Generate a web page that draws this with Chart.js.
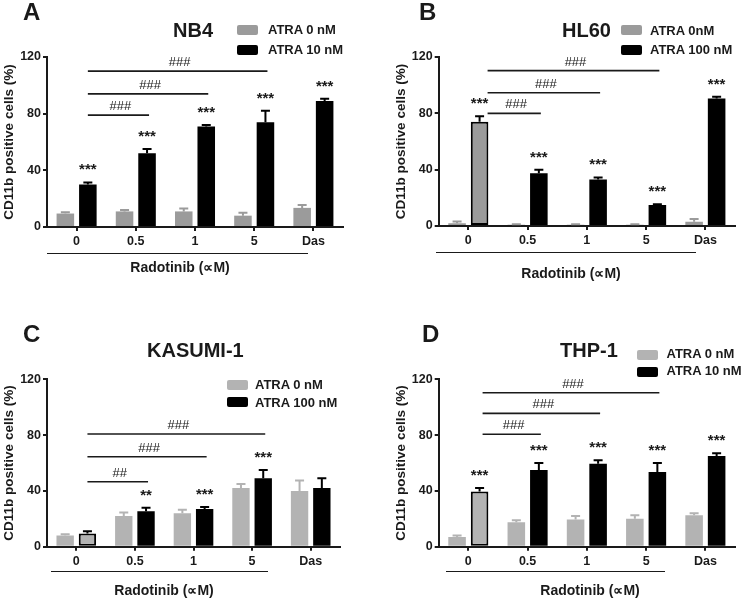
<!DOCTYPE html>
<html>
<head>
<meta charset="utf-8">
<script src="https://cdn.jsdelivr.net/npm/chart.js@4.4.0/dist/chart.umd.min.js"></script>
<style>
body { margin: 0; background: #fff; width: 745px; height: 598px; position: relative; overflow: hidden;
       font-family: "Liberation Sans", Arial, sans-serif; color: #1a1a1a; }
canvas { position: absolute; }
.t { position: absolute; font-weight: bold; line-height: 1; white-space: nowrap; }
.box { position: absolute; width: 21px; height: 10px; border-radius: 2px; }
.rule { position: absolute; height: 0; border-top: 1.6px solid #1a1a1a; }
</style>
</head>
<body>
<canvas id="cA" width="372" height="299" style="left:0;top:0"></canvas>
<canvas id="cB" width="373" height="299" style="left:372px;top:0"></canvas>
<canvas id="cC" width="372" height="299" style="left:0;top:299px"></canvas>
<canvas id="cD" width="373" height="299" style="left:372px;top:299px"></canvas>
<script>
// 数据
const categories = ['0', '0.5', '1', '5', 'Das'];
const yTicks = [0, 40, 80, 120];

const nb4Atra0 = [9.5, 11, 11, 8, 13.5];
const nb4Atra0Err = [1, 1, 2, 2, 2];
const nb4Atra10 = [30, 52, 71, 74, 89];
const nb4Atra10Err = [1.5, 3, 1, 8, 1.5];
const nb4Stars = ['***', '***', '***', '***', '***'];
const nb4Sig = [[0, 3, 110, '###'], [0, 2, 94, '###'], [0, 1, 79, '###']];

const hl60Atra0 = [2, 0.8, 0.8, 0.8, 3];
const hl60Atra0Err = [1.2, 0.4, 0.4, 0.4, 2];
const hl60Atra100 = [74, 37.5, 33, 15, 90.5];
const hl60Atra100Err = [4, 2.5, 1.5, 0.5, 1.2];
const hl60Stars = ['***', '***', '***', '***', '***'];
const hl60Sig = [[0, 3, 110.3, '###'], [0, 2, 94.6, '###'], [0, 1, 80, '###']];

const kasumiAtra0 = [8, 22, 24, 42, 40];
const kasumiAtra0Err = [1, 2.5, 2.5, 3, 7.5];
const kasumiAtra100 = [9.5, 25.5, 27, 49, 42];
const kasumiAtra100Err = [1.5, 2.5, 1.5, 6, 7];
const kasumiStars = ['', '**', '***', '***', ''];
const kasumiSig = [[0, 3, 80.8, '###'], [0, 2, 64.5, '###'], [0, 1, 46.6, '##']];

const thpAtra0 = [7, 17.5, 19.5, 20, 22.5];
const thpAtra0Err = [1, 1.5, 2.5, 2.5, 1.5];
const thpAtra10 = [39.5, 55, 59.5, 53.5, 65];
const thpAtra10Err = [2.5, 5, 2.5, 6.5, 2];
const thpStars = ['***', '***', '***', '***', '***'];
const thpSig = [[0, 3, 110.4, '###'], [0, 2, 95.6, '###'], [0, 1, 80.6, '###']];

const FONT = '"Liberation Sans", Arial, sans-serif';
const INK = '#1a1a1a';

// 误差线、星号、显著性横线
const panelMarks = {
    id: 'panelMarks',
    afterDatasetsDraw(chart, args, opts) {
        const ctx = chart.ctx;
        const y = chart.scales.y;
        ctx.save();
        chart.data.datasets.forEach((ds, di) => {
            const meta = chart.getDatasetMeta(di);
            meta.data.forEach((bar, i) => {
                const top = y.getPixelForValue(ds.data[i] + opts.errors[di][i]);
                ctx.strokeStyle = opts.errColors[di];
                ctx.lineWidth = 2;
                ctx.beginPath();
                ctx.moveTo(bar.x, bar.y);
                ctx.lineTo(bar.x, top);
                ctx.moveTo(bar.x - 4.5, top);
                ctx.lineTo(bar.x + 4.5, top);
                ctx.stroke();
            });
        });

        const hi = chart.getDatasetMeta(1).data;
        const d1 = chart.data.datasets[1].data;
        ctx.fillStyle = INK;
        ctx.textAlign = 'center';
        ctx.textBaseline = 'alphabetic';
        ctx.font = 'bold 15px ' + FONT;
        opts.stars.forEach((s, i) => {
            if (!s) return;
            const top = y.getPixelForValue(d1[i] + opts.errors[1][i]);
            ctx.fillText(s, hi[i].x, top - 8);
        });

        ctx.strokeStyle = INK;
        ctx.lineWidth = 1.6;
        ctx.font = '13px ' + FONT;
        opts.sig.forEach(([from, to, v, label]) => {
            const x0 = hi[from].x + opts.startShift;
            const x1 = hi[to].x + 2;
            const py = y.getPixelForValue(v);
            ctx.beginPath();
            ctx.moveTo(x0, py);
            ctx.lineTo(x1, py);
            ctx.stroke();
            ctx.fillText(label, (x0 + x1) / 2 + 2, py - 5);
        });
        ctx.restore();
    }
};

function makePanel(p) {
    const ctx = document.getElementById(p.canvas).getContext('2d');
    new Chart(ctx, {
        type: 'bar',
        data: {
            labels: categories,
            datasets: [{
                label: p.labels[0],
                data: p.d0,
                backgroundColor: p.gray,
                borderWidth: 0,
                categoryPercentage: 0.76,
                barPercentage: 0.78
            }, {
                label: p.labels[1],
                data: p.d1,
                backgroundColor: c => (p.highlight && c.dataIndex === 0) ? p.gray : '#000',
                borderColor: '#000',
                borderWidth: c => (p.highlight && c.dataIndex === 0) ? 2 : 0,
                borderSkipped: false,
                categoryPercentage: 0.76,
                barPercentage: 0.78
            }]
        },
        options: {
            responsive: false,
            animation: false,
            layout: { padding: p.padding },
            plugins: {
                legend: { display: false },
                tooltip: { enabled: false },
                panelMarks: {
                    errors: [p.e0, p.e1],
                    errColors: [p.gray, '#000'],
                    stars: p.stars,
                    sig: p.sig,
                    startShift: p.startShift
                }
            },
            scales: {
                x: {
                    z: 1,
                    afterFit: s => { s.height = 24; },
                    grid: { offset: false, drawOnChartArea: false, tickLength: 4, lineWidth: 2, color: INK },
                    border: { display: true, width: 2, color: INK },
                    ticks: { padding: 3, color: INK, font: { family: FONT, size: 12.5, weight: 'bold' } }
                },
                y: {
                    z: 1,
                    min: 0,
                    max: 120,
                    afterFit: s => { s.width = 46; },
                    afterBuildTicks: s => { s.ticks = yTicks.map(v => ({ value: v })); },
                    grid: { drawOnChartArea: false, tickLength: 4, lineWidth: 2, color: INK },
                    border: { display: true, width: 2, color: INK },
                    ticks: { padding: 2, color: INK, font: { family: FONT, size: 12.5, weight: 'bold' } },
                    title: {
                        display: true,
                        text: 'CD11b positive cells (%)',
                        color: INK,
                        padding: 0,
                        font: { family: FONT, size: 13.5, weight: 'bold' }
                    }
                }
            }
        },
        plugins: [panelMarks]
    });
}

makePanel({
    canvas: 'cA', d0: nb4Atra0, e0: nb4Atra0Err, d1: nb4Atra10, e1: nb4Atra10Err,
    labels: ['ATRA 0 nM', 'ATRA 10 nM'], gray: '#9b9b9b', highlight: false,
    stars: nb4Stars, sig: nb4Sig, startShift: 0,
    padding: { left: 1, right: 29, top: 57, bottom: 48 }
});
makePanel({
    canvas: 'cB', d0: hl60Atra0, e0: hl60Atra0Err, d1: hl60Atra100, e1: hl60Atra100Err,
    labels: ['ATRA 0nM', 'ATRA 100 nM'], gray: '#9b9b9b', highlight: true,
    stars: hl60Stars, sig: hl60Sig, startShift: 8,
    padding: { left: 20.7, right: 10, top: 57, bottom: 49 }
});
makePanel({
    canvas: 'cC', d0: kasumiAtra0, e0: kasumiAtra0Err, d1: kasumiAtra100, e1: kasumiAtra100Err,
    labels: ['ATRA 0 nM', 'ATRA 100 nM'], gray: '#b3b3b3', highlight: true,
    stars: kasumiStars, sig: kasumiSig, startShift: 0,
    padding: { left: 1, right: 32, top: 80.3, bottom: 27.3 }
});
makePanel({
    canvas: 'cD', d0: thpAtra0, e0: thpAtra0Err, d1: thpAtra10, e1: thpAtra10Err,
    labels: ['ATRA 0 nM', 'ATRA 10 nM'], gray: '#b3b3b3', highlight: true,
    stars: thpStars, sig: thpSig, startShift: 3,
    padding: { left: 20.7, right: 10, top: 80.3, bottom: 27.3 }
});

// 面板文字（字母、标题、图例、横轴说明）
function place(text, x, baseline, size, center) {
    const el = document.createElement('div');
    el.className = 't';
    el.textContent = text;
    el.style.fontSize = size + 'px';
    el.style.left = x + 'px';
    el.style.top = (baseline - 0.8465 * size) + 'px';
    if (center) el.style.transform = 'translateX(-50%)';
    document.body.appendChild(el);
}
function box(x, y, color) {
    const el = document.createElement('div');
    el.className = 'box';
    el.style.left = x + 'px';
    el.style.top = y + 'px';
    el.style.background = color;
    document.body.appendChild(el);
}
function rule(x0, x1, y) {
    const el = document.createElement('div');
    el.className = 'rule';
    el.style.left = x0 + 'px';
    el.style.width = (x1 - x0) + 'px';
    el.style.top = y + 'px';
    document.body.appendChild(el);
}

place('A', 23, 20, 24); place('B', 419, 20, 24);
place('C', 23, 342, 24); place('D', 422, 342, 24);

place('NB4', 173, 37, 20); place('HL60', 562, 37, 20);
place('KASUMI-1', 147, 357, 20); place('THP-1', 560, 357, 20);

box(237, 25, '#9b9b9b'); box(237, 44.5, '#000');
place('ATRA 0 nM', 268, 34.3, 13); place('ATRA 10 nM', 268, 53.8, 13);
box(621, 25, '#9b9b9b'); box(621, 45, '#000');
place('ATRA 0nM', 650, 34.8, 13); place('ATRA 100 nM', 650, 54.3, 13);
box(227, 380, '#b3b3b3'); box(227, 397, '#000');
place('ATRA 0 nM', 255, 389.4, 13); place('ATRA 100 nM', 255, 406.6, 13);
box(637, 349.5, '#b3b3b3'); box(637, 367, '#000');
place('ATRA 0 nM', 666.5, 358.5, 13); place('ATRA 10 nM', 666.5, 375, 13);

rule(47, 308, 252.5); place('Radotinib (∝M)', 180, 272, 14, true);
rule(436, 696, 251.8); place('Radotinib (∝M)', 571, 277.5, 14, true);
rule(51, 268, 570.5); place('Radotinib (∝M)', 164, 595, 14, true);
rule(446, 665, 570.5); place('Radotinib (∝M)', 590, 595, 14, true);
</script>
</body>
</html>
